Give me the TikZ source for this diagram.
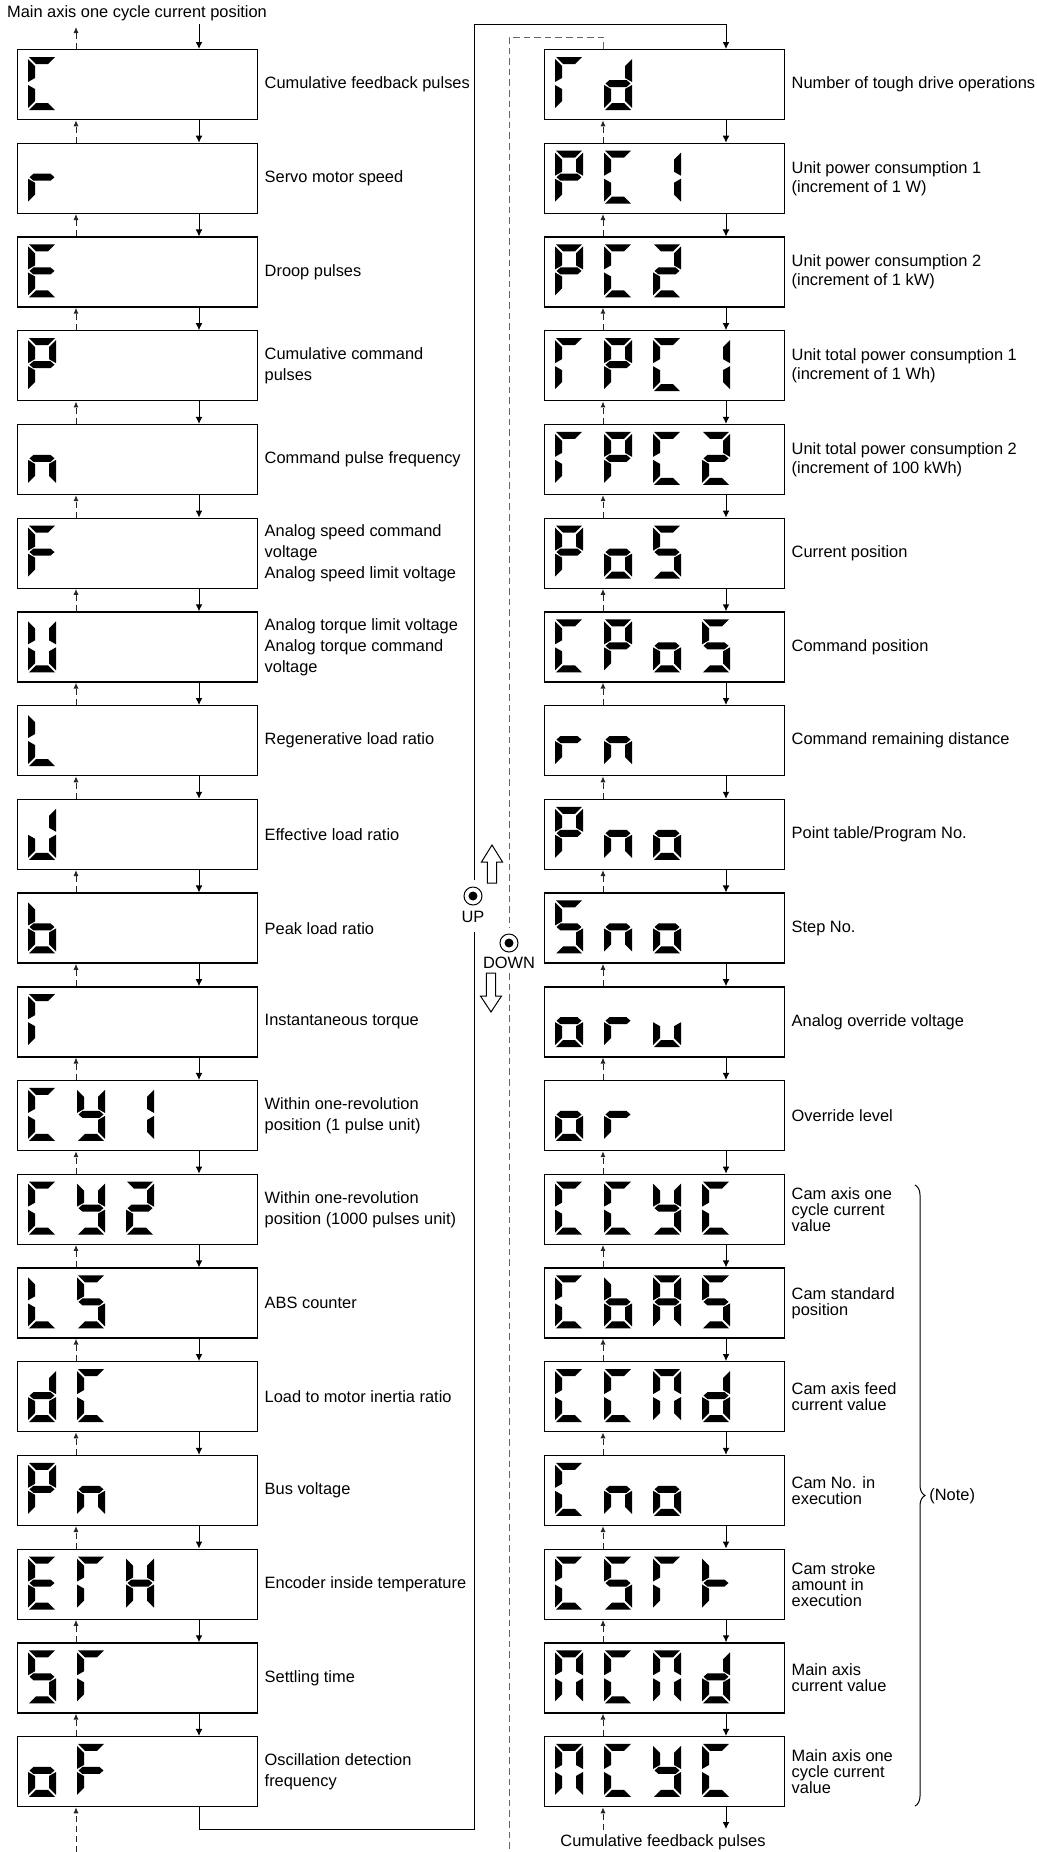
\documentclass[tikz,border=0pt]{standalone}
\usepackage{fontspec}
\setmainfont{Liberation Sans}
\usetikzlibrary{arrows.meta,positioning,decorations.pathreplacing}

% segments of one display digit
\newcommand\segs[1]{\foreach \s in {#1}{\edef\segtmp{\noexpand\pic{seg \s};}\segtmp}}

\tikzset{
  seg a/.pic={\fill (1,0) -- (27,0) -- (20,7) -- (8,7) -- cycle;},
  seg b/.pic={\fill (28,2) -- (21,9) -- (21,21) -- (28,25) -- cycle;},
  seg c/.pic={\fill (28,28) -- (21,32) -- (21,44) -- (28,51) -- cycle;},
  seg d/.pic={\fill (1,53) -- (27,53) -- (20,46) -- (8,46) -- cycle;},
  seg e/.pic={\fill (0,28) -- (7,32) -- (7,44) -- (0,51) -- cycle;},
  seg f/.pic={\fill (0,2) -- (7,9) -- (7,21) -- (0,25) -- cycle;},
  seg g/.pic={\fill (1.5,26.5) -- (5.5,23) -- (22.5,23) -- (26.5,26.5) -- (22.5,30) -- (5.5,30) -- cycle;},
  ch C/.pic={\segs{a,f,e,d}},
  ch r/.pic={\segs{e,g}},
  ch E/.pic={\segs{a,f,g,e,d}},
  ch P/.pic={\segs{a,b,f,g,e}},
  ch n/.pic={\segs{c,e,g}},
  ch F/.pic={\segs{a,f,g,e}},
  ch U/.pic={\segs{b,c,d,e,f}},
  ch L/.pic={\segs{f,e,d}},
  ch J/.pic={\segs{b,c,d,e}},
  ch b/.pic={\segs{f,e,d,c,g}},
  ch T/.pic={\segs{a,f,e}},
  ch y/.pic={\segs{f,b,g,c,d}},
  ch 1/.pic={\segs{b,c}},
  ch 2/.pic={\segs{a,b,g,e,d}},
  ch S/.pic={\segs{a,f,g,c,d}},
  ch d/.pic={\segs{b,c,d,e,g}},
  ch H/.pic={\segs{f,b,g,e,c}},
  ch o/.pic={\segs{g,c,d,e}},
  ch u/.pic={\segs{c,d,e}},
  ch A/.pic={\segs{a,b,c,e,f,g}},
  ch M/.pic={\segs{a,b,c,e,f}},
  ch t/.pic={\segs{f,e,g}}
}

\begin{document}
\begin{tikzpicture}[
  x=0.5pt, y=-0.5pt,
  disp/.style={
    draw,
    line width=0.65pt,
    anchor=north west,
    minimum width=120pt,
    minimum height=35pt,
    inner sep=0pt
  },
  lbl/.style={inner sep=0pt, align=left, font=\fontsize{8.2}{10.5}\selectfont},
  lblr/.style={lbl, font=\fontsize{8.2}{9.5}\selectfont},
  lblc/.style={lbl, font=\fontsize{8.2}{8}\selectfont},
  flow/.style={line width=0.5pt, -{Latex[length=3.5pt,width=3.4pt]}},
  back/.style={line width=0.5pt, black!85, dash pattern=on 3pt off 2pt, -{Latex[length=3pt,width=2.6pt]}},
  dline/.style={line width=0.5pt, black!60, dash pattern=on 3.3pt off 2pt},
  btn/.style={draw, circle, line width=0.5pt, minimum size=9pt, inner sep=0pt},
  hollow/.style={draw, line width=0.5pt, fill=white}
]
\useasboundingbox (0,0) rectangle (1037,1852);

% left column
\foreach \i/\dig/\txt in {
  0/{C}/{Cumulative feedback pulses},
  1/{r}/{Servo motor speed},
  2/{E}/{Droop pulses},
  3/{P}/{Cumulative command\\pulses},
  4/{n}/{Command pulse frequency},
  5/{F}/{Analog speed command\\voltage\\Analog speed limit voltage},
  6/{U}/{Analog torque limit voltage\\Analog torque command\\voltage},
  7/{L}/{Regenerative load ratio},
  8/{J}/{Effective load ratio},
  9/{b}/{Peak load ratio},
  10/{T}/{Instantaneous torque},
  11/{C,y,1}/{Within one-revolution\\position (1 pulse unit)},
  12/{C,y,2}/{Within one-revolution\\position (1000 pulses unit)},
  13/{L,S}/{ABS counter},
  14/{d,C}/{Load to motor inertia ratio},
  15/{P,n}/{Bus voltage},
  16/{E,T,H}/{Encoder inside temperature},
  17/{S,T}/{Settling time},
  18/{o,F}/{Oscillation detection\\frequency}}{
  \node[disp] (L\i) at (17,{49+93.72*\i}) {};
  \foreach \c [count=\k from 0] in \dig {
    \edef\chtmp{\noexpand\pic at ([shift={(11+49*\k,8)}]L\i.north west) {ch \c};}\chtmp
  }
  \node[lbl, right=3pt of L\i] (LT\i) {\txt};
}

% right column
\foreach \i/\dig/\txt in {
  0/{T,d}/{Number of tough drive operations},
  1/{P,C,1}/{Unit power consumption 1\\(increment of 1 W)},
  2/{P,C,2}/{Unit power consumption 2\\(increment of 1 kW)},
  3/{T,P,C,1}/{Unit total power consumption 1\\(increment of 1 Wh)},
  4/{T,P,C,2}/{Unit total power consumption 2\\(increment of 100 kWh)},
  5/{P,o,S}/{Current position},
  6/{C,P,o,S}/{Command position},
  7/{r,n}/{Command remaining distance},
  8/{P,n,o}/{Point table/Program No.},
  9/{S,n,o}/{Step No.},
  10/{o,r,u}/{Analog override voltage},
  11/{o,r}/{Override level}}{
  \node[disp] (R\i) at (544,{49+93.72*\i}) {};
  \foreach \c [count=\k from 0] in \dig {
    \edef\chtmp{\noexpand\pic at ([shift={(11+49*\k,8)}]R\i.north west) {ch \c};}\chtmp
  }
  \node[lblr, right=3pt of R\i] (RT\i) {\txt};
}
\foreach \i/\dig/\txt in {
  12/{C,C,y,C}/{Cam axis one\\cycle current\\value},
  13/{C,b,A,S}/{Cam standard\\position},
  14/{C,C,M,d}/{Cam axis feed\\current value},
  15/{C,n,o}/{Cam No. in\\execution},
  16/{C,S,T,t}/{Cam stroke\\amount in\\execution},
  17/{M,C,M,d}/{Main axis\\current value},
  18/{M,C,y,C}/{Main axis one\\cycle current\\value}}{
  \node[disp] (R\i) at (544,{49+93.72*\i}) {};
  \foreach \c [count=\k from 0] in \dig {
    \edef\chtmp{\noexpand\pic at ([shift={(11+49*\k,8)}]R\i.north west) {ch \c};}\chtmp
  }
  \node[lblc, right=3pt of R\i] (RT\i) {\txt};
}

% steps between the displays
\foreach \i [evaluate=\i as \j using int(\i+1)] in {0,...,17}{
  \draw[flow] ([xshift=91pt]L\i.south west) -- ([xshift=91pt]L\j.north west);
  \draw[back] ([xshift=29.5pt]L\j.north west) -- ([xshift=29.5pt]L\i.south west);
  \draw[flow] ([xshift=91pt]R\i.south west) -- ([xshift=91pt]R\j.north west);
  \draw[back] ([xshift=29.5pt]R\j.north west) -- ([xshift=29.5pt]R\i.south west);
}

% top entry
\node[lbl] (mainpos) at (137,13) {Main axis one cycle current position};
\coordinate (topin) at (199,24);
\coordinate (topout) at (76,27);
\draw[flow] (topin) -- (topin |- L0.north);
\draw[back] (topout |- L0.north) -- (topout);

% loop from the left column to the right column
\coordinate (loopbot) at (474,1829);
\coordinate (loopgapb) at (474,932);
\coordinate (loopgapt) at (474,880);
\coordinate (looptop) at (474,24);
\draw[line width=0.5pt] ([xshift=91pt]L18.south west) |- (loopbot) -- (loopgapb);
\draw[flow] (loopgapt) -- (looptop) -| ([xshift=91pt]R0.north west);

\coordinate (dtop) at (509,37);
\coordinate (dgapt) at (509,928);
\coordinate (dgapb) at (509,973);
\coordinate (dbot) at (509,1852);
\draw[dline] ([xshift=29.5pt]R0.north west) |- (dtop) -- (dgapt);
\draw[dline] (dgapb) -- (dbot);

% bottom ends
\coordinate (lbot) at (76,1852);
\draw[back] (lbot) -- (lbot |- L18.south);
\coordinate (rbin) at (603,1830);
\coordinate (rbout) at (726,1829);
\draw[back] (rbin) -- (rbin |- R18.south);
\draw[flow] (rbout |- R18.south) -- (rbout);
\node[lbl] (cumfb) at (663,1842) {Cumulative feedback pulses};

% UP / DOWN buttons
\draw[hollow] (492,845) -- (502.5,862) -- (496.7,862) -- (496.7,883) -- (487.3,883) -- (487.3,862) -- (481.5,862) -- cycle;
\node[btn] (upbtn) at (473,896) {};
\fill (upbtn) circle (4.5);
\node[lbl] (uptxt) at (473,917) {UP};
\node[btn] (dnbtn) at (509,943) {};
\fill (dnbtn) circle (4.5);
\node[lbl] (dntxt) at (509,963) {DOWN};
\draw[hollow] (491,1012) -- (501.5,996) -- (495.7,996) -- (495.7,973) -- (486.3,973) -- (486.3,996) -- (480.5,996) -- cycle;

% note brace
\coordinate (brtop) at (915,1185);
\coordinate (brbot) at (915,1806);
\draw[line width=0.5pt, decorate, decoration={brace, amplitude=5pt}] (brtop) -- (brbot);
\node[lbl, anchor=west] (note) at (929,1496) {(Note)};
\end{tikzpicture}
\end{document}
